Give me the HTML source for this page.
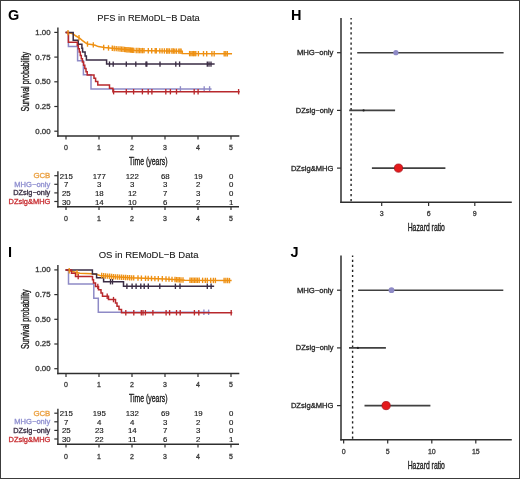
<!DOCTYPE html>
<html><head><meta charset="utf-8"><style>
html,body{margin:0;padding:0;background:#fff;width:520px;height:479px;overflow:hidden}
svg{display:block}
text{font-family:"Liberation Sans", sans-serif}
</style></head><body>
<svg width="520" height="479" viewBox="0 0 520 479">
<rect x="0" y="0" width="520" height="479" fill="#fff"/>
<polyline points="66.40,32.40 70.00,33.00 72.90,33.80 76.00,36.00 79.50,38.00 82.20,40.30 85.20,42.60 87.50,44.00 91.40,44.50 95.20,45.30 98.30,46.60 104.50,47.60 120.00,49.00 135.00,50.50 182.30,51.20 182.30,53.60 231.30,53.80" fill="none" stroke="#EE9012" stroke-width="1.5" stroke-linejoin="miter" stroke-linecap="square"/>
<polyline points="66.40,32.40 68.40,32.40 68.40,46.50 77.60,46.50 77.60,60.70 83.40,60.70 83.40,74.80 91.00,74.80 91.00,88.90 210.80,88.90" fill="none" stroke="#8E8AC6" stroke-width="1.5" stroke-linejoin="miter" stroke-linecap="square"/>
<line x1="180.40" y1="86.20" x2="180.40" y2="91.60" stroke="#8E8AC6" stroke-width="1.35" />
<line x1="204.20" y1="86.20" x2="204.20" y2="91.60" stroke="#8E8AC6" stroke-width="1.35" />
<line x1="209.60" y1="86.20" x2="209.60" y2="91.60" stroke="#8E8AC6" stroke-width="1.35" />
<polyline points="66.40,32.40 73.20,32.40 73.20,40.30 78.20,40.30 78.20,44.30 81.90,44.30 81.90,48.20 82.60,48.20 82.60,52.10 85.10,52.10 85.10,56.10 86.40,56.10 86.40,60.10 106.60,60.10 106.60,64.10 213.90,64.10" fill="none" stroke="#3A2C44" stroke-width="1.5" stroke-linejoin="miter" stroke-linecap="square"/>
<line x1="109.50" y1="61.40" x2="109.50" y2="66.80" stroke="#3A2C44" stroke-width="1.35" />
<line x1="113.20" y1="61.40" x2="113.20" y2="66.80" stroke="#3A2C44" stroke-width="1.35" />
<line x1="126.30" y1="61.40" x2="126.30" y2="66.80" stroke="#3A2C44" stroke-width="1.35" />
<line x1="135.80" y1="61.40" x2="135.80" y2="66.80" stroke="#3A2C44" stroke-width="1.35" />
<line x1="146.00" y1="61.40" x2="146.00" y2="66.80" stroke="#3A2C44" stroke-width="1.35" />
<line x1="146.80" y1="61.40" x2="146.80" y2="66.80" stroke="#3A2C44" stroke-width="1.35" />
<line x1="160.00" y1="61.40" x2="160.00" y2="66.80" stroke="#3A2C44" stroke-width="1.35" />
<line x1="175.80" y1="61.40" x2="175.80" y2="66.80" stroke="#3A2C44" stroke-width="1.35" />
<line x1="179.60" y1="61.40" x2="179.60" y2="66.80" stroke="#3A2C44" stroke-width="1.35" />
<line x1="207.30" y1="61.40" x2="207.30" y2="66.80" stroke="#3A2C44" stroke-width="1.35" />
<line x1="209.00" y1="61.40" x2="209.00" y2="66.80" stroke="#3A2C44" stroke-width="1.35" />
<line x1="211.00" y1="61.40" x2="211.00" y2="66.80" stroke="#3A2C44" stroke-width="1.35" />
<polyline points="66.40,32.40 68.40,32.40 68.40,42.30 77.30,42.30 77.30,45.57 78.30,45.57 78.30,48.84 79.30,48.84 79.30,52.11 80.30,52.11 80.30,55.38 81.30,55.38 81.30,58.65 82.40,58.65 82.40,61.92 83.60,61.92 83.60,65.19 84.80,65.19 84.80,68.46 86.00,68.46 86.00,71.73 87.20,71.73 87.20,75.00 94.00,75.00 94.00,78.30 95.60,78.30 95.60,81.60 97.80,81.60 97.80,84.90 109.50,84.90 109.50,88.30 112.90,88.30 112.90,91.70 239.00,91.70" fill="none" stroke="#B8282C" stroke-width="1.5" stroke-linejoin="miter" stroke-linecap="square"/>
<line x1="113.60" y1="89.00" x2="113.60" y2="94.40" stroke="#B8282C" stroke-width="1.35" />
<line x1="126.30" y1="89.00" x2="126.30" y2="94.40" stroke="#B8282C" stroke-width="1.35" />
<line x1="133.60" y1="89.00" x2="133.60" y2="94.40" stroke="#B8282C" stroke-width="1.35" />
<line x1="142.40" y1="89.00" x2="142.40" y2="94.40" stroke="#B8282C" stroke-width="1.35" />
<line x1="148.20" y1="89.00" x2="148.20" y2="94.40" stroke="#B8282C" stroke-width="1.35" />
<line x1="151.90" y1="89.00" x2="151.90" y2="94.40" stroke="#B8282C" stroke-width="1.35" />
<line x1="165.80" y1="89.00" x2="165.80" y2="94.40" stroke="#B8282C" stroke-width="1.35" />
<line x1="170.40" y1="89.00" x2="170.40" y2="94.40" stroke="#B8282C" stroke-width="1.35" />
<line x1="176.50" y1="89.00" x2="176.50" y2="94.40" stroke="#B8282C" stroke-width="1.35" />
<line x1="194.20" y1="89.00" x2="194.20" y2="94.40" stroke="#B8282C" stroke-width="1.35" />
<line x1="198.10" y1="89.00" x2="198.10" y2="94.40" stroke="#B8282C" stroke-width="1.35" />
<line x1="238.60" y1="89.00" x2="238.60" y2="94.40" stroke="#B8282C" stroke-width="1.35" />
<line x1="68.00" y1="29.97" x2="68.00" y2="35.37" stroke="#EE9012" stroke-width="1.35" />
<line x1="79.00" y1="35.01" x2="79.00" y2="40.41" stroke="#EE9012" stroke-width="1.35" />
<line x1="87.50" y1="41.30" x2="87.50" y2="46.70" stroke="#EE9012" stroke-width="1.35" />
<line x1="93.30" y1="42.20" x2="93.30" y2="47.60" stroke="#EE9012" stroke-width="1.35" />
<line x1="103.70" y1="44.77" x2="103.70" y2="50.17" stroke="#EE9012" stroke-width="1.35" />
<line x1="108.50" y1="45.26" x2="108.50" y2="50.66" stroke="#EE9012" stroke-width="1.35" />
<line x1="112.30" y1="45.60" x2="112.30" y2="51.00" stroke="#EE9012" stroke-width="1.35" />
<line x1="114.20" y1="45.78" x2="114.20" y2="51.18" stroke="#EE9012" stroke-width="1.35" />
<line x1="116.20" y1="45.96" x2="116.20" y2="51.36" stroke="#EE9012" stroke-width="1.35" />
<line x1="118.10" y1="46.13" x2="118.10" y2="51.53" stroke="#EE9012" stroke-width="1.35" />
<line x1="120.00" y1="46.30" x2="120.00" y2="51.70" stroke="#EE9012" stroke-width="1.35" />
<line x1="121.50" y1="46.45" x2="121.50" y2="51.85" stroke="#EE9012" stroke-width="1.35" />
<line x1="123.00" y1="46.60" x2="123.00" y2="52.00" stroke="#EE9012" stroke-width="1.35" />
<line x1="124.60" y1="46.76" x2="124.60" y2="52.16" stroke="#EE9012" stroke-width="1.35" />
<line x1="125.75" y1="46.88" x2="125.75" y2="52.28" stroke="#EE9012" stroke-width="1.35" />
<line x1="126.90" y1="46.99" x2="126.90" y2="52.39" stroke="#EE9012" stroke-width="1.35" />
<line x1="128.05" y1="47.10" x2="128.05" y2="52.51" stroke="#EE9012" stroke-width="1.35" />
<line x1="129.20" y1="47.22" x2="129.20" y2="52.62" stroke="#EE9012" stroke-width="1.35" />
<line x1="130.35" y1="47.33" x2="130.35" y2="52.73" stroke="#EE9012" stroke-width="1.35" />
<line x1="131.50" y1="47.45" x2="131.50" y2="52.85" stroke="#EE9012" stroke-width="1.35" />
<line x1="132.65" y1="47.56" x2="132.65" y2="52.97" stroke="#EE9012" stroke-width="1.35" />
<line x1="133.80" y1="47.68" x2="133.80" y2="53.08" stroke="#EE9012" stroke-width="1.35" />
<line x1="136.20" y1="47.82" x2="136.20" y2="53.22" stroke="#EE9012" stroke-width="1.35" />
<line x1="138.00" y1="47.84" x2="138.00" y2="53.24" stroke="#EE9012" stroke-width="1.35" />
<line x1="139.50" y1="47.87" x2="139.50" y2="53.27" stroke="#EE9012" stroke-width="1.35" />
<line x1="141.00" y1="47.89" x2="141.00" y2="53.29" stroke="#EE9012" stroke-width="1.35" />
<line x1="142.50" y1="47.91" x2="142.50" y2="53.31" stroke="#EE9012" stroke-width="1.35" />
<line x1="144.00" y1="47.93" x2="144.00" y2="53.33" stroke="#EE9012" stroke-width="1.35" />
<line x1="148.30" y1="48.00" x2="148.30" y2="53.40" stroke="#EE9012" stroke-width="1.35" />
<line x1="151.70" y1="48.05" x2="151.70" y2="53.45" stroke="#EE9012" stroke-width="1.35" />
<line x1="155.20" y1="48.10" x2="155.20" y2="53.50" stroke="#EE9012" stroke-width="1.35" />
<line x1="156.30" y1="48.12" x2="156.30" y2="53.52" stroke="#EE9012" stroke-width="1.35" />
<line x1="159.80" y1="48.17" x2="159.80" y2="53.57" stroke="#EE9012" stroke-width="1.35" />
<line x1="162.10" y1="48.20" x2="162.10" y2="53.60" stroke="#EE9012" stroke-width="1.35" />
<line x1="164.40" y1="48.24" x2="164.40" y2="53.64" stroke="#EE9012" stroke-width="1.35" />
<line x1="166.70" y1="48.27" x2="166.70" y2="53.67" stroke="#EE9012" stroke-width="1.35" />
<line x1="168.00" y1="48.29" x2="168.00" y2="53.69" stroke="#EE9012" stroke-width="1.35" />
<line x1="169.60" y1="48.31" x2="169.60" y2="53.71" stroke="#EE9012" stroke-width="1.35" />
<line x1="171.90" y1="48.35" x2="171.90" y2="53.75" stroke="#EE9012" stroke-width="1.35" />
<line x1="173.30" y1="48.37" x2="173.30" y2="53.77" stroke="#EE9012" stroke-width="1.35" />
<line x1="174.80" y1="48.39" x2="174.80" y2="53.79" stroke="#EE9012" stroke-width="1.35" />
<line x1="176.50" y1="48.41" x2="176.50" y2="53.81" stroke="#EE9012" stroke-width="1.35" />
<line x1="178.80" y1="48.45" x2="178.80" y2="53.85" stroke="#EE9012" stroke-width="1.35" />
<line x1="180.00" y1="48.47" x2="180.00" y2="53.87" stroke="#EE9012" stroke-width="1.35" />
<line x1="181.10" y1="48.48" x2="181.10" y2="53.88" stroke="#EE9012" stroke-width="1.35" />
<line x1="189.60" y1="50.93" x2="189.60" y2="56.33" stroke="#EE9012" stroke-width="1.35" />
<line x1="190.90" y1="50.94" x2="190.90" y2="56.34" stroke="#EE9012" stroke-width="1.35" />
<line x1="192.20" y1="50.94" x2="192.20" y2="56.34" stroke="#EE9012" stroke-width="1.35" />
<line x1="193.50" y1="50.95" x2="193.50" y2="56.35" stroke="#EE9012" stroke-width="1.35" />
<line x1="194.80" y1="50.95" x2="194.80" y2="56.35" stroke="#EE9012" stroke-width="1.35" />
<line x1="195.80" y1="50.96" x2="195.80" y2="56.36" stroke="#EE9012" stroke-width="1.35" />
<line x1="198.40" y1="50.97" x2="198.40" y2="56.37" stroke="#EE9012" stroke-width="1.35" />
<line x1="203.50" y1="50.99" x2="203.50" y2="56.39" stroke="#EE9012" stroke-width="1.35" />
<line x1="206.70" y1="51.00" x2="206.70" y2="56.40" stroke="#EE9012" stroke-width="1.35" />
<line x1="211.90" y1="51.02" x2="211.90" y2="56.42" stroke="#EE9012" stroke-width="1.35" />
<line x1="214.20" y1="51.03" x2="214.20" y2="56.43" stroke="#EE9012" stroke-width="1.35" />
<line x1="224.20" y1="51.07" x2="224.20" y2="56.47" stroke="#EE9012" stroke-width="1.35" />
<line x1="225.80" y1="51.08" x2="225.80" y2="56.48" stroke="#EE9012" stroke-width="1.35" />
<line x1="227.30" y1="51.08" x2="227.30" y2="56.48" stroke="#EE9012" stroke-width="1.35" />
<line x1="57.90" y1="27.50" x2="57.90" y2="136.70" stroke="#2e2e2e" stroke-width="1.4" />
<line x1="57.20" y1="136.00" x2="239.30" y2="136.00" stroke="#2e2e2e" stroke-width="1.4" />
<line x1="54.30" y1="32.40" x2="57.90" y2="32.40" stroke="#2e2e2e" stroke-width="1.2" />
<line x1="54.30" y1="57.10" x2="57.90" y2="57.10" stroke="#2e2e2e" stroke-width="1.2" />
<line x1="54.30" y1="81.80" x2="57.90" y2="81.80" stroke="#2e2e2e" stroke-width="1.2" />
<line x1="54.30" y1="106.50" x2="57.90" y2="106.50" stroke="#2e2e2e" stroke-width="1.2" />
<line x1="54.30" y1="131.20" x2="57.90" y2="131.20" stroke="#2e2e2e" stroke-width="1.2" />
<line x1="66.00" y1="136.00" x2="66.00" y2="139.40" stroke="#2e2e2e" stroke-width="1.2" />
<line x1="99.00" y1="136.00" x2="99.00" y2="139.40" stroke="#2e2e2e" stroke-width="1.2" />
<line x1="132.00" y1="136.00" x2="132.00" y2="139.40" stroke="#2e2e2e" stroke-width="1.2" />
<line x1="165.00" y1="136.00" x2="165.00" y2="139.40" stroke="#2e2e2e" stroke-width="1.2" />
<line x1="198.00" y1="136.00" x2="198.00" y2="139.40" stroke="#2e2e2e" stroke-width="1.2" />
<line x1="231.00" y1="136.00" x2="231.00" y2="139.40" stroke="#2e2e2e" stroke-width="1.2" />
<line x1="57.90" y1="171.20" x2="57.90" y2="207.40" stroke="#2e2e2e" stroke-width="1.4" />
<line x1="57.20" y1="206.70" x2="239.00" y2="206.70" stroke="#2e2e2e" stroke-width="1.4" />
<line x1="54.30" y1="175.70" x2="57.90" y2="175.70" stroke="#2e2e2e" stroke-width="1.2" />
<line x1="54.30" y1="184.30" x2="57.90" y2="184.30" stroke="#2e2e2e" stroke-width="1.2" />
<line x1="54.30" y1="192.90" x2="57.90" y2="192.90" stroke="#2e2e2e" stroke-width="1.2" />
<line x1="54.30" y1="201.50" x2="57.90" y2="201.50" stroke="#2e2e2e" stroke-width="1.2" />
<line x1="66.00" y1="206.70" x2="66.00" y2="209.90" stroke="#2e2e2e" stroke-width="1.2" />
<line x1="99.00" y1="206.70" x2="99.00" y2="209.90" stroke="#2e2e2e" stroke-width="1.2" />
<line x1="132.00" y1="206.70" x2="132.00" y2="209.90" stroke="#2e2e2e" stroke-width="1.2" />
<line x1="165.00" y1="206.70" x2="165.00" y2="209.90" stroke="#2e2e2e" stroke-width="1.2" />
<line x1="198.00" y1="206.70" x2="198.00" y2="209.90" stroke="#2e2e2e" stroke-width="1.2" />
<line x1="231.00" y1="206.70" x2="231.00" y2="209.90" stroke="#2e2e2e" stroke-width="1.2" />
<polyline points="66.30,269.90 70.00,271.00 75.50,272.30 80.00,273.20 92.00,273.70 97.00,274.50 100.00,275.40 115.00,276.80 130.00,277.80 165.00,278.90 185.00,280.20 230.90,280.60" fill="none" stroke="#EE9012" stroke-width="1.5" stroke-linejoin="miter" stroke-linecap="square"/>
<polyline points="66.40,269.90 68.50,269.90 68.50,284.00 93.80,284.00 93.80,298.20 98.30,298.20 98.30,312.30 209.00,312.30" fill="none" stroke="#8E8AC6" stroke-width="1.5" stroke-linejoin="miter" stroke-linecap="square"/>
<line x1="203.90" y1="309.60" x2="203.90" y2="315.00" stroke="#8E8AC6" stroke-width="1.35" />
<line x1="208.60" y1="309.60" x2="208.60" y2="315.00" stroke="#8E8AC6" stroke-width="1.35" />
<polyline points="66.40,269.90 92.40,269.90 92.40,273.90 96.60,273.90 96.60,277.80 103.60,277.80 103.60,281.70 123.50,281.70 123.50,286.30 213.40,286.30" fill="none" stroke="#3A2C44" stroke-width="1.5" stroke-linejoin="miter" stroke-linecap="square"/>
<line x1="110.50" y1="279.00" x2="110.50" y2="284.40" stroke="#3A2C44" stroke-width="1.35" />
<line x1="112.50" y1="279.00" x2="112.50" y2="284.40" stroke="#3A2C44" stroke-width="1.35" />
<line x1="126.90" y1="283.60" x2="126.90" y2="289.00" stroke="#3A2C44" stroke-width="1.35" />
<line x1="132.10" y1="283.60" x2="132.10" y2="289.00" stroke="#3A2C44" stroke-width="1.35" />
<line x1="136.10" y1="283.60" x2="136.10" y2="289.00" stroke="#3A2C44" stroke-width="1.35" />
<line x1="140.80" y1="283.60" x2="140.80" y2="289.00" stroke="#3A2C44" stroke-width="1.35" />
<line x1="144.20" y1="283.60" x2="144.20" y2="289.00" stroke="#3A2C44" stroke-width="1.35" />
<line x1="148.30" y1="283.60" x2="148.30" y2="289.00" stroke="#3A2C44" stroke-width="1.35" />
<line x1="159.80" y1="283.60" x2="159.80" y2="289.00" stroke="#3A2C44" stroke-width="1.35" />
<line x1="175.40" y1="283.60" x2="175.40" y2="289.00" stroke="#3A2C44" stroke-width="1.35" />
<line x1="180.00" y1="283.60" x2="180.00" y2="289.00" stroke="#3A2C44" stroke-width="1.35" />
<line x1="207.30" y1="283.60" x2="207.30" y2="289.00" stroke="#3A2C44" stroke-width="1.35" />
<line x1="211.10" y1="283.60" x2="211.10" y2="289.00" stroke="#3A2C44" stroke-width="1.35" />
<polyline points="66.40,269.90 71.50,269.90 71.50,273.20 75.50,273.20 75.50,276.50 92.50,276.50 92.50,279.80 93.50,279.80 93.50,283.10 95.50,283.10 95.50,286.40 98.50,286.40 98.50,289.70 101.00,289.70 101.00,293.00 102.50,293.00 102.50,296.30 108.50,296.30 108.50,299.60 115.50,299.60 115.50,302.90 117.00,302.90 117.00,306.20 119.00,306.20 119.00,309.50 121.50,309.50 121.50,312.70 231.50,312.70" fill="none" stroke="#B8282C" stroke-width="1.5" stroke-linejoin="miter" stroke-linecap="square"/>
<line x1="78.20" y1="273.80" x2="78.20" y2="279.20" stroke="#B8282C" stroke-width="1.35" />
<line x1="97.80" y1="283.70" x2="97.80" y2="289.10" stroke="#B8282C" stroke-width="1.35" />
<line x1="107.20" y1="293.60" x2="107.20" y2="299.00" stroke="#B8282C" stroke-width="1.35" />
<line x1="113.50" y1="296.90" x2="113.50" y2="302.30" stroke="#B8282C" stroke-width="1.35" />
<line x1="125.80" y1="310.00" x2="125.80" y2="315.40" stroke="#B8282C" stroke-width="1.35" />
<line x1="133.80" y1="310.00" x2="133.80" y2="315.40" stroke="#B8282C" stroke-width="1.35" />
<line x1="141.30" y1="310.00" x2="141.30" y2="315.40" stroke="#B8282C" stroke-width="1.35" />
<line x1="143.00" y1="310.00" x2="143.00" y2="315.40" stroke="#B8282C" stroke-width="1.35" />
<line x1="145.40" y1="310.00" x2="145.40" y2="315.40" stroke="#B8282C" stroke-width="1.35" />
<line x1="152.90" y1="310.00" x2="152.90" y2="315.40" stroke="#B8282C" stroke-width="1.35" />
<line x1="166.10" y1="310.00" x2="166.10" y2="315.40" stroke="#B8282C" stroke-width="1.35" />
<line x1="169.60" y1="310.00" x2="169.60" y2="315.40" stroke="#B8282C" stroke-width="1.35" />
<line x1="176.50" y1="310.00" x2="176.50" y2="315.40" stroke="#B8282C" stroke-width="1.35" />
<line x1="180.20" y1="310.00" x2="180.20" y2="315.40" stroke="#B8282C" stroke-width="1.35" />
<line x1="194.40" y1="310.00" x2="194.40" y2="315.40" stroke="#B8282C" stroke-width="1.35" />
<line x1="198.80" y1="310.00" x2="198.80" y2="315.40" stroke="#B8282C" stroke-width="1.35" />
<line x1="231.20" y1="310.00" x2="231.20" y2="315.40" stroke="#B8282C" stroke-width="1.35" />
<line x1="69.20" y1="268.06" x2="69.20" y2="273.46" stroke="#EE9012" stroke-width="1.35" />
<line x1="77.00" y1="269.90" x2="77.00" y2="275.30" stroke="#EE9012" stroke-width="1.35" />
<line x1="101.70" y1="272.86" x2="101.70" y2="278.26" stroke="#EE9012" stroke-width="1.35" />
<line x1="103.70" y1="273.05" x2="103.70" y2="278.45" stroke="#EE9012" stroke-width="1.35" />
<line x1="105.70" y1="273.23" x2="105.70" y2="278.63" stroke="#EE9012" stroke-width="1.35" />
<line x1="107.70" y1="273.42" x2="107.70" y2="278.82" stroke="#EE9012" stroke-width="1.35" />
<line x1="109.70" y1="273.61" x2="109.70" y2="279.01" stroke="#EE9012" stroke-width="1.35" />
<line x1="111.70" y1="273.79" x2="111.70" y2="279.19" stroke="#EE9012" stroke-width="1.35" />
<line x1="113.70" y1="273.98" x2="113.70" y2="279.38" stroke="#EE9012" stroke-width="1.35" />
<line x1="115.70" y1="274.15" x2="115.70" y2="279.55" stroke="#EE9012" stroke-width="1.35" />
<line x1="117.70" y1="274.28" x2="117.70" y2="279.68" stroke="#EE9012" stroke-width="1.35" />
<line x1="119.70" y1="274.41" x2="119.70" y2="279.81" stroke="#EE9012" stroke-width="1.35" />
<line x1="121.70" y1="274.55" x2="121.70" y2="279.95" stroke="#EE9012" stroke-width="1.35" />
<line x1="123.70" y1="274.68" x2="123.70" y2="280.08" stroke="#EE9012" stroke-width="1.35" />
<line x1="125.70" y1="274.81" x2="125.70" y2="280.21" stroke="#EE9012" stroke-width="1.35" />
<line x1="127.70" y1="274.95" x2="127.70" y2="280.35" stroke="#EE9012" stroke-width="1.35" />
<line x1="129.70" y1="275.08" x2="129.70" y2="280.48" stroke="#EE9012" stroke-width="1.35" />
<line x1="131.70" y1="275.15" x2="131.70" y2="280.55" stroke="#EE9012" stroke-width="1.35" />
<line x1="133.70" y1="275.22" x2="133.70" y2="280.62" stroke="#EE9012" stroke-width="1.35" />
<line x1="138.00" y1="275.35" x2="138.00" y2="280.75" stroke="#EE9012" stroke-width="1.35" />
<line x1="141.40" y1="275.46" x2="141.40" y2="280.86" stroke="#EE9012" stroke-width="1.35" />
<line x1="145.50" y1="275.59" x2="145.50" y2="280.99" stroke="#EE9012" stroke-width="1.35" />
<line x1="148.20" y1="275.67" x2="148.20" y2="281.07" stroke="#EE9012" stroke-width="1.35" />
<line x1="151.50" y1="275.78" x2="151.50" y2="281.18" stroke="#EE9012" stroke-width="1.35" />
<line x1="154.90" y1="275.88" x2="154.90" y2="281.28" stroke="#EE9012" stroke-width="1.35" />
<line x1="158.30" y1="275.99" x2="158.30" y2="281.39" stroke="#EE9012" stroke-width="1.35" />
<line x1="162.30" y1="276.12" x2="162.30" y2="281.52" stroke="#EE9012" stroke-width="1.35" />
<line x1="166.00" y1="276.26" x2="166.00" y2="281.66" stroke="#EE9012" stroke-width="1.35" />
<line x1="169.00" y1="276.46" x2="169.00" y2="281.86" stroke="#EE9012" stroke-width="1.35" />
<line x1="172.00" y1="276.65" x2="172.00" y2="282.05" stroke="#EE9012" stroke-width="1.35" />
<line x1="175.00" y1="276.85" x2="175.00" y2="282.25" stroke="#EE9012" stroke-width="1.35" />
<line x1="176.50" y1="276.95" x2="176.50" y2="282.35" stroke="#EE9012" stroke-width="1.35" />
<line x1="178.00" y1="277.05" x2="178.00" y2="282.44" stroke="#EE9012" stroke-width="1.35" />
<line x1="179.50" y1="277.14" x2="179.50" y2="282.54" stroke="#EE9012" stroke-width="1.35" />
<line x1="181.00" y1="277.24" x2="181.00" y2="282.64" stroke="#EE9012" stroke-width="1.35" />
<line x1="183.00" y1="277.37" x2="183.00" y2="282.77" stroke="#EE9012" stroke-width="1.35" />
<line x1="190.00" y1="277.54" x2="190.00" y2="282.94" stroke="#EE9012" stroke-width="1.35" />
<line x1="191.50" y1="277.56" x2="191.50" y2="282.96" stroke="#EE9012" stroke-width="1.35" />
<line x1="193.00" y1="277.57" x2="193.00" y2="282.97" stroke="#EE9012" stroke-width="1.35" />
<line x1="194.50" y1="277.58" x2="194.50" y2="282.98" stroke="#EE9012" stroke-width="1.35" />
<line x1="196.00" y1="277.60" x2="196.00" y2="283.00" stroke="#EE9012" stroke-width="1.35" />
<line x1="197.50" y1="277.61" x2="197.50" y2="283.01" stroke="#EE9012" stroke-width="1.35" />
<line x1="199.20" y1="277.62" x2="199.20" y2="283.02" stroke="#EE9012" stroke-width="1.35" />
<line x1="202.60" y1="277.65" x2="202.60" y2="283.05" stroke="#EE9012" stroke-width="1.35" />
<line x1="205.30" y1="277.68" x2="205.30" y2="283.08" stroke="#EE9012" stroke-width="1.35" />
<line x1="207.30" y1="277.69" x2="207.30" y2="283.09" stroke="#EE9012" stroke-width="1.35" />
<line x1="210.70" y1="277.72" x2="210.70" y2="283.12" stroke="#EE9012" stroke-width="1.35" />
<line x1="213.40" y1="277.75" x2="213.40" y2="283.15" stroke="#EE9012" stroke-width="1.35" />
<line x1="215.40" y1="277.76" x2="215.40" y2="283.16" stroke="#EE9012" stroke-width="1.35" />
<line x1="224.10" y1="277.84" x2="224.10" y2="283.24" stroke="#EE9012" stroke-width="1.35" />
<line x1="225.90" y1="277.86" x2="225.90" y2="283.26" stroke="#EE9012" stroke-width="1.35" />
<line x1="227.70" y1="277.87" x2="227.70" y2="283.27" stroke="#EE9012" stroke-width="1.35" />
<line x1="229.50" y1="277.89" x2="229.50" y2="283.29" stroke="#EE9012" stroke-width="1.35" />
<line x1="57.90" y1="265.00" x2="57.90" y2="374.20" stroke="#2e2e2e" stroke-width="1.4" />
<line x1="57.20" y1="373.50" x2="239.30" y2="373.50" stroke="#2e2e2e" stroke-width="1.4" />
<line x1="54.30" y1="269.90" x2="57.90" y2="269.90" stroke="#2e2e2e" stroke-width="1.2" />
<line x1="54.30" y1="294.60" x2="57.90" y2="294.60" stroke="#2e2e2e" stroke-width="1.2" />
<line x1="54.30" y1="319.30" x2="57.90" y2="319.30" stroke="#2e2e2e" stroke-width="1.2" />
<line x1="54.30" y1="344.00" x2="57.90" y2="344.00" stroke="#2e2e2e" stroke-width="1.2" />
<line x1="54.30" y1="368.70" x2="57.90" y2="368.70" stroke="#2e2e2e" stroke-width="1.2" />
<line x1="66.00" y1="373.50" x2="66.00" y2="376.90" stroke="#2e2e2e" stroke-width="1.2" />
<line x1="99.00" y1="373.50" x2="99.00" y2="376.90" stroke="#2e2e2e" stroke-width="1.2" />
<line x1="132.00" y1="373.50" x2="132.00" y2="376.90" stroke="#2e2e2e" stroke-width="1.2" />
<line x1="165.00" y1="373.50" x2="165.00" y2="376.90" stroke="#2e2e2e" stroke-width="1.2" />
<line x1="198.00" y1="373.50" x2="198.00" y2="376.90" stroke="#2e2e2e" stroke-width="1.2" />
<line x1="231.00" y1="373.50" x2="231.00" y2="376.90" stroke="#2e2e2e" stroke-width="1.2" />
<line x1="57.90" y1="408.70" x2="57.90" y2="444.90" stroke="#2e2e2e" stroke-width="1.4" />
<line x1="57.20" y1="444.20" x2="239.00" y2="444.20" stroke="#2e2e2e" stroke-width="1.4" />
<line x1="54.30" y1="413.20" x2="57.90" y2="413.20" stroke="#2e2e2e" stroke-width="1.2" />
<line x1="54.30" y1="421.80" x2="57.90" y2="421.80" stroke="#2e2e2e" stroke-width="1.2" />
<line x1="54.30" y1="430.40" x2="57.90" y2="430.40" stroke="#2e2e2e" stroke-width="1.2" />
<line x1="54.30" y1="439.00" x2="57.90" y2="439.00" stroke="#2e2e2e" stroke-width="1.2" />
<line x1="66.00" y1="444.20" x2="66.00" y2="447.40" stroke="#2e2e2e" stroke-width="1.2" />
<line x1="99.00" y1="444.20" x2="99.00" y2="447.40" stroke="#2e2e2e" stroke-width="1.2" />
<line x1="132.00" y1="444.20" x2="132.00" y2="447.40" stroke="#2e2e2e" stroke-width="1.2" />
<line x1="165.00" y1="444.20" x2="165.00" y2="447.40" stroke="#2e2e2e" stroke-width="1.2" />
<line x1="198.00" y1="444.20" x2="198.00" y2="447.40" stroke="#2e2e2e" stroke-width="1.2" />
<line x1="231.00" y1="444.20" x2="231.00" y2="447.40" stroke="#2e2e2e" stroke-width="1.2" />
<line x1="351.10" y1="18.00" x2="351.10" y2="202.20" stroke="#222" stroke-width="1.4" stroke-dasharray="2.2 2.85" stroke-dashoffset="0.8"/>
<line x1="341.00" y1="18.00" x2="341.00" y2="202.90" stroke="#2e2e2e" stroke-width="1.5" />
<line x1="340.30" y1="202.20" x2="511.80" y2="202.20" stroke="#2e2e2e" stroke-width="1.5" />
<line x1="337.00" y1="52.70" x2="341.00" y2="52.70" stroke="#2e2e2e" stroke-width="1.2" />
<line x1="357.20" y1="52.70" x2="503.60" y2="52.70" stroke="#404040" stroke-width="1.6" />
<circle cx="395.9" cy="52.7" r="2.6" fill="#8E8AC6"/>
<line x1="337.00" y1="110.40" x2="341.00" y2="110.40" stroke="#2e2e2e" stroke-width="1.2" />
<line x1="349.20" y1="110.40" x2="395.10" y2="110.40" stroke="#404040" stroke-width="1.6" />
<circle cx="363.6" cy="110.4" r="1.1" fill="#222"/>
<line x1="337.00" y1="168.10" x2="341.00" y2="168.10" stroke="#2e2e2e" stroke-width="1.2" />
<line x1="371.90" y1="168.10" x2="445.40" y2="168.10" stroke="#404040" stroke-width="1.6" />
<circle cx="398.5" cy="168.1" r="4.1" fill="#E41A1C" stroke="#A8121A" stroke-width="0.8"/>
<line x1="381.70" y1="202.20" x2="381.70" y2="206.10" stroke="#2e2e2e" stroke-width="1.2" />
<line x1="428.60" y1="202.20" x2="428.60" y2="206.10" stroke="#2e2e2e" stroke-width="1.2" />
<line x1="474.80" y1="202.20" x2="474.80" y2="206.10" stroke="#2e2e2e" stroke-width="1.2" />
<line x1="352.60" y1="255.50" x2="352.60" y2="439.70" stroke="#222" stroke-width="1.4" stroke-dasharray="2.2 2.85" stroke-dashoffset="0.8"/>
<line x1="341.00" y1="255.50" x2="341.00" y2="440.40" stroke="#2e2e2e" stroke-width="1.5" />
<line x1="340.30" y1="439.70" x2="511.80" y2="439.70" stroke="#2e2e2e" stroke-width="1.5" />
<line x1="337.00" y1="290.20" x2="341.00" y2="290.20" stroke="#2e2e2e" stroke-width="1.2" />
<line x1="358.10" y1="290.20" x2="503.30" y2="290.20" stroke="#404040" stroke-width="1.6" />
<circle cx="391.5" cy="290.2" r="2.9" fill="#8E8AC6"/>
<line x1="337.00" y1="347.90" x2="341.00" y2="347.90" stroke="#2e2e2e" stroke-width="1.2" />
<line x1="349.00" y1="347.90" x2="385.90" y2="347.90" stroke="#404040" stroke-width="1.6" />
<circle cx="357.9" cy="347.9" r="1.1" fill="#222"/>
<line x1="337.00" y1="405.60" x2="341.00" y2="405.60" stroke="#2e2e2e" stroke-width="1.2" />
<line x1="364.50" y1="405.60" x2="430.40" y2="405.60" stroke="#404040" stroke-width="1.6" />
<circle cx="386.1" cy="405.6" r="4.1" fill="#E41A1C" stroke="#A8121A" stroke-width="0.8"/>
<line x1="343.65" y1="439.70" x2="343.65" y2="443.60" stroke="#2e2e2e" stroke-width="1.2" />
<line x1="387.70" y1="439.70" x2="387.70" y2="443.60" stroke="#2e2e2e" stroke-width="1.2" />
<line x1="431.80" y1="439.70" x2="431.80" y2="443.60" stroke="#2e2e2e" stroke-width="1.2" />
<line x1="475.80" y1="439.70" x2="475.80" y2="443.60" stroke="#2e2e2e" stroke-width="1.2" />
<rect x="0.5" y="0.5" width="519" height="478" fill="none" stroke="#3c3c3c" stroke-width="1"/>
<defs><filter id="nf" x="0" y="0" width="1" height="1"><feOffset dx="0" dy="0"/></filter></defs><g filter="url(#nf)">
<text x="97.30" y="20.70" font-size="9.3" text-anchor="start" fill="#1a1a1a" stroke="#1a1a1a" stroke-width="0.12" font-weight="normal" textLength="102.40" lengthAdjust="spacingAndGlyphs" >PFS in REMoDL−B Data</text>
<text x="50.50" y="34.85" font-size="7" text-anchor="end" fill="#3a3a3a" stroke="#3a3a3a" stroke-width="0.3" font-weight="normal" textLength="15.20" lengthAdjust="spacingAndGlyphs" >1.00</text>
<text x="50.50" y="59.55" font-size="7" text-anchor="end" fill="#3a3a3a" stroke="#3a3a3a" stroke-width="0.3" font-weight="normal" textLength="15.20" lengthAdjust="spacingAndGlyphs" >0.75</text>
<text x="50.50" y="84.25" font-size="7" text-anchor="end" fill="#3a3a3a" stroke="#3a3a3a" stroke-width="0.3" font-weight="normal" textLength="15.20" lengthAdjust="spacingAndGlyphs" >0.50</text>
<text x="50.50" y="108.95" font-size="7" text-anchor="end" fill="#3a3a3a" stroke="#3a3a3a" stroke-width="0.3" font-weight="normal" textLength="15.20" lengthAdjust="spacingAndGlyphs" >0.25</text>
<text x="50.50" y="133.65" font-size="7" text-anchor="end" fill="#3a3a3a" stroke="#3a3a3a" stroke-width="0.3" font-weight="normal" textLength="15.20" lengthAdjust="spacingAndGlyphs" >0.00</text>
<text x="66.00" y="149.90" font-size="7" text-anchor="middle" fill="#3a3a3a" stroke="#3a3a3a" stroke-width="0.3" font-weight="normal" >0</text>
<text x="99.00" y="149.90" font-size="7" text-anchor="middle" fill="#3a3a3a" stroke="#3a3a3a" stroke-width="0.3" font-weight="normal" >1</text>
<text x="132.00" y="149.90" font-size="7" text-anchor="middle" fill="#3a3a3a" stroke="#3a3a3a" stroke-width="0.3" font-weight="normal" >2</text>
<text x="165.00" y="149.90" font-size="7" text-anchor="middle" fill="#3a3a3a" stroke="#3a3a3a" stroke-width="0.3" font-weight="normal" >3</text>
<text x="198.00" y="149.90" font-size="7" text-anchor="middle" fill="#3a3a3a" stroke="#3a3a3a" stroke-width="0.3" font-weight="normal" >4</text>
<text x="231.00" y="149.90" font-size="7" text-anchor="middle" fill="#3a3a3a" stroke="#3a3a3a" stroke-width="0.3" font-weight="normal" >5</text>
<text x="129.00" y="164.90" font-size="10.3" text-anchor="start" fill="#1a1a1a" stroke="#1a1a1a" stroke-width="0.35" font-weight="normal" textLength="38.50" lengthAdjust="spacingAndGlyphs" >Time (years)</text>
<text x="0" y="0" font-size="10.3" fill="#1a1a1a" stroke="#1a1a1a" stroke-width="0.35" textLength="59.7" lengthAdjust="spacingAndGlyphs" transform="translate(28.9,111.60) rotate(-90)">Survival probability</text>
<text x="50.30" y="178.20" font-size="7" text-anchor="end" fill="#EBA040" stroke="#EBA040" stroke-width="0.3" font-weight="normal" textLength="16.90" lengthAdjust="spacingAndGlyphs" >GCB</text>
<text x="66.30" y="178.70" font-size="7.2" text-anchor="middle" fill="#1a1a1a" stroke="#1a1a1a" stroke-width="0.15" font-weight="normal" textLength="13.08" lengthAdjust="spacingAndGlyphs" >215</text>
<text x="99.30" y="178.70" font-size="7.2" text-anchor="middle" fill="#1a1a1a" stroke="#1a1a1a" stroke-width="0.15" font-weight="normal" textLength="13.08" lengthAdjust="spacingAndGlyphs" >177</text>
<text x="132.30" y="178.70" font-size="7.2" text-anchor="middle" fill="#1a1a1a" stroke="#1a1a1a" stroke-width="0.15" font-weight="normal" textLength="13.08" lengthAdjust="spacingAndGlyphs" >122</text>
<text x="165.30" y="178.70" font-size="7.2" text-anchor="middle" fill="#1a1a1a" stroke="#1a1a1a" stroke-width="0.15" font-weight="normal" textLength="8.72" lengthAdjust="spacingAndGlyphs" >68</text>
<text x="198.30" y="178.70" font-size="7.2" text-anchor="middle" fill="#1a1a1a" stroke="#1a1a1a" stroke-width="0.15" font-weight="normal" textLength="8.72" lengthAdjust="spacingAndGlyphs" >19</text>
<text x="231.30" y="178.70" font-size="7.2" text-anchor="middle" fill="#1a1a1a" stroke="#1a1a1a" stroke-width="0.15" font-weight="normal" textLength="4.36" lengthAdjust="spacingAndGlyphs" >0</text>
<text x="50.30" y="186.80" font-size="7" text-anchor="end" fill="#9090D0" stroke="#9090D0" stroke-width="0.3" font-weight="normal" textLength="36.00" lengthAdjust="spacingAndGlyphs" >MHG−only</text>
<text x="66.30" y="187.30" font-size="7.2" text-anchor="middle" fill="#1a1a1a" stroke="#1a1a1a" stroke-width="0.15" font-weight="normal" textLength="4.36" lengthAdjust="spacingAndGlyphs" >7</text>
<text x="99.30" y="187.30" font-size="7.2" text-anchor="middle" fill="#1a1a1a" stroke="#1a1a1a" stroke-width="0.15" font-weight="normal" textLength="4.36" lengthAdjust="spacingAndGlyphs" >3</text>
<text x="132.30" y="187.30" font-size="7.2" text-anchor="middle" fill="#1a1a1a" stroke="#1a1a1a" stroke-width="0.15" font-weight="normal" textLength="4.36" lengthAdjust="spacingAndGlyphs" >3</text>
<text x="165.30" y="187.30" font-size="7.2" text-anchor="middle" fill="#1a1a1a" stroke="#1a1a1a" stroke-width="0.15" font-weight="normal" textLength="4.36" lengthAdjust="spacingAndGlyphs" >3</text>
<text x="198.30" y="187.30" font-size="7.2" text-anchor="middle" fill="#1a1a1a" stroke="#1a1a1a" stroke-width="0.15" font-weight="normal" textLength="4.36" lengthAdjust="spacingAndGlyphs" >2</text>
<text x="231.30" y="187.30" font-size="7.2" text-anchor="middle" fill="#1a1a1a" stroke="#1a1a1a" stroke-width="0.15" font-weight="normal" textLength="4.36" lengthAdjust="spacingAndGlyphs" >0</text>
<text x="50.30" y="195.40" font-size="7" text-anchor="end" fill="#3A2E44" stroke="#3A2E44" stroke-width="0.3" font-weight="normal" textLength="37.10" lengthAdjust="spacingAndGlyphs" >DZsig−only</text>
<text x="66.30" y="195.90" font-size="7.2" text-anchor="middle" fill="#1a1a1a" stroke="#1a1a1a" stroke-width="0.15" font-weight="normal" textLength="8.72" lengthAdjust="spacingAndGlyphs" >25</text>
<text x="99.30" y="195.90" font-size="7.2" text-anchor="middle" fill="#1a1a1a" stroke="#1a1a1a" stroke-width="0.15" font-weight="normal" textLength="8.72" lengthAdjust="spacingAndGlyphs" >18</text>
<text x="132.30" y="195.90" font-size="7.2" text-anchor="middle" fill="#1a1a1a" stroke="#1a1a1a" stroke-width="0.15" font-weight="normal" textLength="8.72" lengthAdjust="spacingAndGlyphs" >12</text>
<text x="165.30" y="195.90" font-size="7.2" text-anchor="middle" fill="#1a1a1a" stroke="#1a1a1a" stroke-width="0.15" font-weight="normal" textLength="4.36" lengthAdjust="spacingAndGlyphs" >7</text>
<text x="198.30" y="195.90" font-size="7.2" text-anchor="middle" fill="#1a1a1a" stroke="#1a1a1a" stroke-width="0.15" font-weight="normal" textLength="4.36" lengthAdjust="spacingAndGlyphs" >3</text>
<text x="231.30" y="195.90" font-size="7.2" text-anchor="middle" fill="#1a1a1a" stroke="#1a1a1a" stroke-width="0.15" font-weight="normal" textLength="4.36" lengthAdjust="spacingAndGlyphs" >0</text>
<text x="50.30" y="204.00" font-size="7" text-anchor="end" fill="#C83034" stroke="#C83034" stroke-width="0.3" font-weight="normal" textLength="41.70" lengthAdjust="spacingAndGlyphs" >DZsig&amp;MHG</text>
<text x="66.30" y="204.50" font-size="7.2" text-anchor="middle" fill="#1a1a1a" stroke="#1a1a1a" stroke-width="0.15" font-weight="normal" textLength="8.72" lengthAdjust="spacingAndGlyphs" >30</text>
<text x="99.30" y="204.50" font-size="7.2" text-anchor="middle" fill="#1a1a1a" stroke="#1a1a1a" stroke-width="0.15" font-weight="normal" textLength="8.72" lengthAdjust="spacingAndGlyphs" >14</text>
<text x="132.30" y="204.50" font-size="7.2" text-anchor="middle" fill="#1a1a1a" stroke="#1a1a1a" stroke-width="0.15" font-weight="normal" textLength="8.72" lengthAdjust="spacingAndGlyphs" >10</text>
<text x="165.30" y="204.50" font-size="7.2" text-anchor="middle" fill="#1a1a1a" stroke="#1a1a1a" stroke-width="0.15" font-weight="normal" textLength="4.36" lengthAdjust="spacingAndGlyphs" >6</text>
<text x="198.30" y="204.50" font-size="7.2" text-anchor="middle" fill="#1a1a1a" stroke="#1a1a1a" stroke-width="0.15" font-weight="normal" textLength="4.36" lengthAdjust="spacingAndGlyphs" >2</text>
<text x="231.30" y="204.50" font-size="7.2" text-anchor="middle" fill="#1a1a1a" stroke="#1a1a1a" stroke-width="0.15" font-weight="normal" textLength="4.36" lengthAdjust="spacingAndGlyphs" >1</text>
<text x="66.00" y="221.00" font-size="7" text-anchor="middle" fill="#3a3a3a" stroke="#3a3a3a" stroke-width="0.3" font-weight="normal" >0</text>
<text x="99.00" y="221.00" font-size="7" text-anchor="middle" fill="#3a3a3a" stroke="#3a3a3a" stroke-width="0.3" font-weight="normal" >1</text>
<text x="132.00" y="221.00" font-size="7" text-anchor="middle" fill="#3a3a3a" stroke="#3a3a3a" stroke-width="0.3" font-weight="normal" >2</text>
<text x="165.00" y="221.00" font-size="7" text-anchor="middle" fill="#3a3a3a" stroke="#3a3a3a" stroke-width="0.3" font-weight="normal" >3</text>
<text x="198.00" y="221.00" font-size="7" text-anchor="middle" fill="#3a3a3a" stroke="#3a3a3a" stroke-width="0.3" font-weight="normal" >4</text>
<text x="231.00" y="221.00" font-size="7" text-anchor="middle" fill="#3a3a3a" stroke="#3a3a3a" stroke-width="0.3" font-weight="normal" >5</text>
<text x="98.70" y="258.20" font-size="9.3" text-anchor="start" fill="#1a1a1a" stroke="#1a1a1a" stroke-width="0.12" font-weight="normal" textLength="99.80" lengthAdjust="spacingAndGlyphs" >OS in REMoDL−B Data</text>
<text x="50.50" y="272.35" font-size="7" text-anchor="end" fill="#3a3a3a" stroke="#3a3a3a" stroke-width="0.3" font-weight="normal" textLength="15.20" lengthAdjust="spacingAndGlyphs" >1.00</text>
<text x="50.50" y="297.05" font-size="7" text-anchor="end" fill="#3a3a3a" stroke="#3a3a3a" stroke-width="0.3" font-weight="normal" textLength="15.20" lengthAdjust="spacingAndGlyphs" >0.75</text>
<text x="50.50" y="321.75" font-size="7" text-anchor="end" fill="#3a3a3a" stroke="#3a3a3a" stroke-width="0.3" font-weight="normal" textLength="15.20" lengthAdjust="spacingAndGlyphs" >0.50</text>
<text x="50.50" y="346.45" font-size="7" text-anchor="end" fill="#3a3a3a" stroke="#3a3a3a" stroke-width="0.3" font-weight="normal" textLength="15.20" lengthAdjust="spacingAndGlyphs" >0.25</text>
<text x="50.50" y="371.15" font-size="7" text-anchor="end" fill="#3a3a3a" stroke="#3a3a3a" stroke-width="0.3" font-weight="normal" textLength="15.20" lengthAdjust="spacingAndGlyphs" >0.00</text>
<text x="66.00" y="387.40" font-size="7" text-anchor="middle" fill="#3a3a3a" stroke="#3a3a3a" stroke-width="0.3" font-weight="normal" >0</text>
<text x="99.00" y="387.40" font-size="7" text-anchor="middle" fill="#3a3a3a" stroke="#3a3a3a" stroke-width="0.3" font-weight="normal" >1</text>
<text x="132.00" y="387.40" font-size="7" text-anchor="middle" fill="#3a3a3a" stroke="#3a3a3a" stroke-width="0.3" font-weight="normal" >2</text>
<text x="165.00" y="387.40" font-size="7" text-anchor="middle" fill="#3a3a3a" stroke="#3a3a3a" stroke-width="0.3" font-weight="normal" >3</text>
<text x="198.00" y="387.40" font-size="7" text-anchor="middle" fill="#3a3a3a" stroke="#3a3a3a" stroke-width="0.3" font-weight="normal" >4</text>
<text x="231.00" y="387.40" font-size="7" text-anchor="middle" fill="#3a3a3a" stroke="#3a3a3a" stroke-width="0.3" font-weight="normal" >5</text>
<text x="129.00" y="402.40" font-size="10.3" text-anchor="start" fill="#1a1a1a" stroke="#1a1a1a" stroke-width="0.35" font-weight="normal" textLength="38.50" lengthAdjust="spacingAndGlyphs" >Time (years)</text>
<text x="0" y="0" font-size="10.3" fill="#1a1a1a" stroke="#1a1a1a" stroke-width="0.35" textLength="59.7" lengthAdjust="spacingAndGlyphs" transform="translate(28.9,349.10) rotate(-90)">Survival probability</text>
<text x="50.30" y="415.70" font-size="7" text-anchor="end" fill="#EBA040" stroke="#EBA040" stroke-width="0.3" font-weight="normal" textLength="16.90" lengthAdjust="spacingAndGlyphs" >GCB</text>
<text x="66.30" y="416.20" font-size="7.2" text-anchor="middle" fill="#1a1a1a" stroke="#1a1a1a" stroke-width="0.15" font-weight="normal" textLength="13.08" lengthAdjust="spacingAndGlyphs" >215</text>
<text x="99.30" y="416.20" font-size="7.2" text-anchor="middle" fill="#1a1a1a" stroke="#1a1a1a" stroke-width="0.15" font-weight="normal" textLength="13.08" lengthAdjust="spacingAndGlyphs" >195</text>
<text x="132.30" y="416.20" font-size="7.2" text-anchor="middle" fill="#1a1a1a" stroke="#1a1a1a" stroke-width="0.15" font-weight="normal" textLength="13.08" lengthAdjust="spacingAndGlyphs" >132</text>
<text x="165.30" y="416.20" font-size="7.2" text-anchor="middle" fill="#1a1a1a" stroke="#1a1a1a" stroke-width="0.15" font-weight="normal" textLength="8.72" lengthAdjust="spacingAndGlyphs" >69</text>
<text x="198.30" y="416.20" font-size="7.2" text-anchor="middle" fill="#1a1a1a" stroke="#1a1a1a" stroke-width="0.15" font-weight="normal" textLength="8.72" lengthAdjust="spacingAndGlyphs" >19</text>
<text x="231.30" y="416.20" font-size="7.2" text-anchor="middle" fill="#1a1a1a" stroke="#1a1a1a" stroke-width="0.15" font-weight="normal" textLength="4.36" lengthAdjust="spacingAndGlyphs" >0</text>
<text x="50.30" y="424.30" font-size="7" text-anchor="end" fill="#9090D0" stroke="#9090D0" stroke-width="0.3" font-weight="normal" textLength="36.00" lengthAdjust="spacingAndGlyphs" >MHG−only</text>
<text x="66.30" y="424.80" font-size="7.2" text-anchor="middle" fill="#1a1a1a" stroke="#1a1a1a" stroke-width="0.15" font-weight="normal" textLength="4.36" lengthAdjust="spacingAndGlyphs" >7</text>
<text x="99.30" y="424.80" font-size="7.2" text-anchor="middle" fill="#1a1a1a" stroke="#1a1a1a" stroke-width="0.15" font-weight="normal" textLength="4.36" lengthAdjust="spacingAndGlyphs" >4</text>
<text x="132.30" y="424.80" font-size="7.2" text-anchor="middle" fill="#1a1a1a" stroke="#1a1a1a" stroke-width="0.15" font-weight="normal" textLength="4.36" lengthAdjust="spacingAndGlyphs" >4</text>
<text x="165.30" y="424.80" font-size="7.2" text-anchor="middle" fill="#1a1a1a" stroke="#1a1a1a" stroke-width="0.15" font-weight="normal" textLength="4.36" lengthAdjust="spacingAndGlyphs" >3</text>
<text x="198.30" y="424.80" font-size="7.2" text-anchor="middle" fill="#1a1a1a" stroke="#1a1a1a" stroke-width="0.15" font-weight="normal" textLength="4.36" lengthAdjust="spacingAndGlyphs" >2</text>
<text x="231.30" y="424.80" font-size="7.2" text-anchor="middle" fill="#1a1a1a" stroke="#1a1a1a" stroke-width="0.15" font-weight="normal" textLength="4.36" lengthAdjust="spacingAndGlyphs" >0</text>
<text x="50.30" y="432.90" font-size="7" text-anchor="end" fill="#3A2E44" stroke="#3A2E44" stroke-width="0.3" font-weight="normal" textLength="37.10" lengthAdjust="spacingAndGlyphs" >DZsig−only</text>
<text x="66.30" y="433.40" font-size="7.2" text-anchor="middle" fill="#1a1a1a" stroke="#1a1a1a" stroke-width="0.15" font-weight="normal" textLength="8.72" lengthAdjust="spacingAndGlyphs" >25</text>
<text x="99.30" y="433.40" font-size="7.2" text-anchor="middle" fill="#1a1a1a" stroke="#1a1a1a" stroke-width="0.15" font-weight="normal" textLength="8.72" lengthAdjust="spacingAndGlyphs" >23</text>
<text x="132.30" y="433.40" font-size="7.2" text-anchor="middle" fill="#1a1a1a" stroke="#1a1a1a" stroke-width="0.15" font-weight="normal" textLength="8.72" lengthAdjust="spacingAndGlyphs" >14</text>
<text x="165.30" y="433.40" font-size="7.2" text-anchor="middle" fill="#1a1a1a" stroke="#1a1a1a" stroke-width="0.15" font-weight="normal" textLength="4.36" lengthAdjust="spacingAndGlyphs" >7</text>
<text x="198.30" y="433.40" font-size="7.2" text-anchor="middle" fill="#1a1a1a" stroke="#1a1a1a" stroke-width="0.15" font-weight="normal" textLength="4.36" lengthAdjust="spacingAndGlyphs" >3</text>
<text x="231.30" y="433.40" font-size="7.2" text-anchor="middle" fill="#1a1a1a" stroke="#1a1a1a" stroke-width="0.15" font-weight="normal" textLength="4.36" lengthAdjust="spacingAndGlyphs" >0</text>
<text x="50.30" y="441.50" font-size="7" text-anchor="end" fill="#C83034" stroke="#C83034" stroke-width="0.3" font-weight="normal" textLength="41.70" lengthAdjust="spacingAndGlyphs" >DZsig&amp;MHG</text>
<text x="66.30" y="442.00" font-size="7.2" text-anchor="middle" fill="#1a1a1a" stroke="#1a1a1a" stroke-width="0.15" font-weight="normal" textLength="8.72" lengthAdjust="spacingAndGlyphs" >30</text>
<text x="99.30" y="442.00" font-size="7.2" text-anchor="middle" fill="#1a1a1a" stroke="#1a1a1a" stroke-width="0.15" font-weight="normal" textLength="8.72" lengthAdjust="spacingAndGlyphs" >22</text>
<text x="132.30" y="442.00" font-size="7.2" text-anchor="middle" fill="#1a1a1a" stroke="#1a1a1a" stroke-width="0.15" font-weight="normal" textLength="8.72" lengthAdjust="spacingAndGlyphs" >11</text>
<text x="165.30" y="442.00" font-size="7.2" text-anchor="middle" fill="#1a1a1a" stroke="#1a1a1a" stroke-width="0.15" font-weight="normal" textLength="4.36" lengthAdjust="spacingAndGlyphs" >6</text>
<text x="198.30" y="442.00" font-size="7.2" text-anchor="middle" fill="#1a1a1a" stroke="#1a1a1a" stroke-width="0.15" font-weight="normal" textLength="4.36" lengthAdjust="spacingAndGlyphs" >2</text>
<text x="231.30" y="442.00" font-size="7.2" text-anchor="middle" fill="#1a1a1a" stroke="#1a1a1a" stroke-width="0.15" font-weight="normal" textLength="4.36" lengthAdjust="spacingAndGlyphs" >1</text>
<text x="66.00" y="458.50" font-size="7" text-anchor="middle" fill="#3a3a3a" stroke="#3a3a3a" stroke-width="0.3" font-weight="normal" >0</text>
<text x="99.00" y="458.50" font-size="7" text-anchor="middle" fill="#3a3a3a" stroke="#3a3a3a" stroke-width="0.3" font-weight="normal" >1</text>
<text x="132.00" y="458.50" font-size="7" text-anchor="middle" fill="#3a3a3a" stroke="#3a3a3a" stroke-width="0.3" font-weight="normal" >2</text>
<text x="165.00" y="458.50" font-size="7" text-anchor="middle" fill="#3a3a3a" stroke="#3a3a3a" stroke-width="0.3" font-weight="normal" >3</text>
<text x="198.00" y="458.50" font-size="7" text-anchor="middle" fill="#3a3a3a" stroke="#3a3a3a" stroke-width="0.3" font-weight="normal" >4</text>
<text x="231.00" y="458.50" font-size="7" text-anchor="middle" fill="#3a3a3a" stroke="#3a3a3a" stroke-width="0.3" font-weight="normal" >5</text>
<text x="333.40" y="55.15" font-size="7" text-anchor="end" fill="#2a2a2a" stroke="#2a2a2a" stroke-width="0.3" font-weight="normal" textLength="36.50" lengthAdjust="spacingAndGlyphs" >MHG−only</text>
<text x="333.40" y="112.85" font-size="7" text-anchor="end" fill="#2a2a2a" stroke="#2a2a2a" stroke-width="0.3" font-weight="normal" textLength="37.60" lengthAdjust="spacingAndGlyphs" >DZsig−only</text>
<text x="333.40" y="170.55" font-size="7" text-anchor="end" fill="#2a2a2a" stroke="#2a2a2a" stroke-width="0.3" font-weight="normal" textLength="42.50" lengthAdjust="spacingAndGlyphs" >DZsig&amp;MHG</text>
<text x="381.70" y="216.40" font-size="7" text-anchor="middle" fill="#3a3a3a" stroke="#3a3a3a" stroke-width="0.3" font-weight="normal" >3</text>
<text x="428.60" y="216.40" font-size="7" text-anchor="middle" fill="#3a3a3a" stroke="#3a3a3a" stroke-width="0.3" font-weight="normal" >6</text>
<text x="474.80" y="216.40" font-size="7" text-anchor="middle" fill="#3a3a3a" stroke="#3a3a3a" stroke-width="0.3" font-weight="normal" >9</text>
<text x="407.70" y="231.00" font-size="10.3" text-anchor="start" fill="#1a1a1a" stroke="#1a1a1a" stroke-width="0.35" font-weight="normal" textLength="37.20" lengthAdjust="spacingAndGlyphs" >Hazard ratio</text>
<text x="333.40" y="292.65" font-size="7" text-anchor="end" fill="#2a2a2a" stroke="#2a2a2a" stroke-width="0.3" font-weight="normal" textLength="36.50" lengthAdjust="spacingAndGlyphs" >MHG−only</text>
<text x="333.40" y="350.35" font-size="7" text-anchor="end" fill="#2a2a2a" stroke="#2a2a2a" stroke-width="0.3" font-weight="normal" textLength="37.60" lengthAdjust="spacingAndGlyphs" >DZsig−only</text>
<text x="333.40" y="408.05" font-size="7" text-anchor="end" fill="#2a2a2a" stroke="#2a2a2a" stroke-width="0.3" font-weight="normal" textLength="42.50" lengthAdjust="spacingAndGlyphs" >DZsig&amp;MHG</text>
<text x="343.65" y="453.90" font-size="7" text-anchor="middle" fill="#3a3a3a" stroke="#3a3a3a" stroke-width="0.3" font-weight="normal" >0</text>
<text x="387.70" y="453.90" font-size="7" text-anchor="middle" fill="#3a3a3a" stroke="#3a3a3a" stroke-width="0.3" font-weight="normal" >5</text>
<text x="431.80" y="453.90" font-size="7" text-anchor="middle" fill="#3a3a3a" stroke="#3a3a3a" stroke-width="0.3" font-weight="normal" >10</text>
<text x="475.80" y="453.90" font-size="7" text-anchor="middle" fill="#3a3a3a" stroke="#3a3a3a" stroke-width="0.3" font-weight="normal" >15</text>
<text x="407.70" y="468.50" font-size="10.3" text-anchor="start" fill="#1a1a1a" stroke="#1a1a1a" stroke-width="0.35" font-weight="normal" textLength="37.20" lengthAdjust="spacingAndGlyphs" >Hazard ratio</text>
<text x="8.00" y="19.70" font-size="14.5" text-anchor="start" fill="#000" stroke="#000" stroke-width="0" font-weight="bold" >G</text>
<text x="290.90" y="19.70" font-size="14.5" text-anchor="start" fill="#000" stroke="#000" stroke-width="0" font-weight="bold" >H</text>
<text x="8.00" y="257.30" font-size="14.5" text-anchor="start" fill="#000" stroke="#000" stroke-width="0" font-weight="bold" >I</text>
<text x="290.60" y="257.10" font-size="14.5" text-anchor="start" fill="#000" stroke="#000" stroke-width="0" font-weight="bold" >J</text>
</g>
</svg>
</body></html>
